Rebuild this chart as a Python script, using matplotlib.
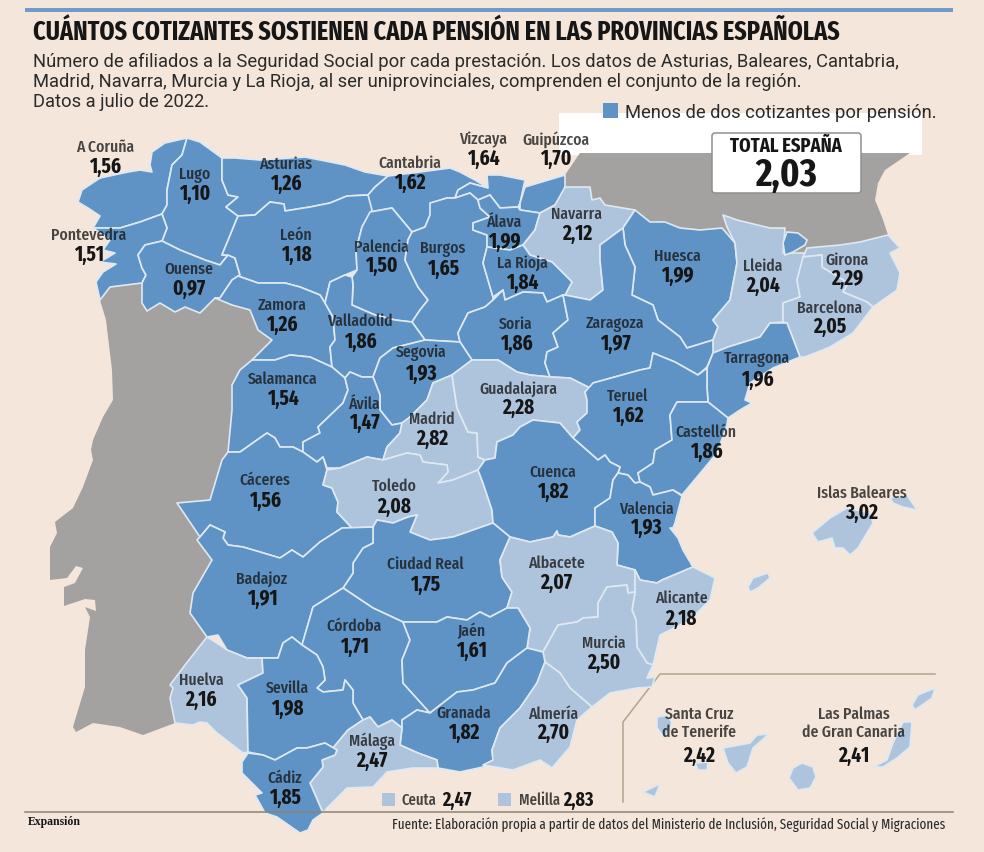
"""
Cotizantes por pension, mapa de provincias. Contornos trazados a mano en pixeles.
"""

from matplotlib import pyplot as plt
from matplotlib.patches import FancyBboxPatch, Rectangle

BG = "#f4e6da"
BLUE = "#5f93c5"
LIGHT = "#aec4dd"
GREY = "#a4a2a0"
BORDER = "#dfe9f1"
TAN = "#b3a48f"
INK = "#161616"

NARROW = ["Fira Sans Extra Condensed", "Barlow Condensed", "Roboto", "DejaVu Sans"]

provinces = ["A Coruña", "Lugo", "Asturias", "Cantabria", "Vizcaya", "Guipúzcoa", "Pontevedra",
             "Ouense", "León", "Palencia", "Burgos", "Álava", "Navarra", "La Rioja", "Huesca",
             "Lleida", "Girona", "Barcelona", "Zamora", "Valladolid", "Soria", "Zaragoza",
             "Tarragona", "Segovia", "Salamanca", "Ávila", "Madrid", "Guadalajara", "Teruel",
             "Castellón", "Cáceres", "Toledo", "Cuenca", "Valencia", "Islas Baleares",
             "Ciudad Real", "Albacete", "Badajoz", "Alicante", "Córdoba", "Jaén", "Murcia",
             "Huelva", "Sevilla", "Granada", "Almería", "Málaga", "Cádiz",
             "Santa Cruz\nde Tenerife", "Las Palmas\nde Gran Canaria"]
values = [1.56, 1.10, 1.26, 1.62, 1.64, 1.70, 1.51,
          0.97, 1.18, 1.50, 1.65, 1.99, 2.12, 1.84, 1.99,
          2.04, 2.29, 2.05, 1.26, 1.86, 1.86, 1.97,
          1.96, 1.93, 1.54, 1.47, 2.82, 2.28, 1.62,
          1.86, 1.56, 2.08, 1.82, 1.93, 3.02,
          1.75, 2.07, 1.91, 2.18, 1.71, 1.61, 2.50,
          2.16, 1.98, 1.82, 2.70, 2.47, 1.85,
          2.42, 2.41]
total_spain = 2.03
ceuta = 2.47
melilla = 2.83

# contornos en pixeles de la imagen (x, y), y hacia abajo
shapes = {
    "A Coruña": [[(187,138),(165,143),(152,152),(150,165),(152,172),(140,170),(128,172),(100,178),(82,190),(78,202),(88,208),(100,216),(93,228),(120,228),(140,222),(162,214),(167,205),(167,190),(172,165),(182,155)]],
    "Lugo": [[(187,138),(200,142),(222,158),(222,180),(228,195),(238,197),(226,207),(238,216),(222,255),(228,255),(220,265),(205,260),(180,250),(162,241),(167,228),(162,214),(167,205),(167,190),(172,165),(182,155)]],
    "Pontevedra": [[(93,228),(120,228),(140,222),(162,214),(167,228),(162,241),(145,245),(138,255),(142,268),(146,275),(142,283),(110,287),(100,300),(96,282),(103,272),(116,264),(100,262),(115,253),(103,250),(110,240)]],
    "Ouense": [[(162,241),(180,250),(205,260),(220,265),(228,255),(235,258),(240,275),(232,280),(220,298),(215,298),(200,313),(185,307),(175,312),(160,303),(147,311),(142,303),(142,283),(146,275),(142,268),(138,255),(145,245)]],
    "Asturias": [[(222,158),(235,158),(260,160),(305,157),(345,165),(365,172),(388,176),(375,187),(368,195),(347,196),(330,203),(310,207),(285,211),(284,204),(270,202),(255,215),(238,216),(226,207),(238,197),(228,195),(222,180)]],
    "León": [[(238,216),(255,215),(270,202),(284,204),(285,211),(310,207),(330,203),(347,196),(368,195),(372,210),(362,227),(356,250),(357,270),(345,275),(330,282),(325,303),(320,295),(300,287),(285,283),(258,283),(238,276),(240,275),(235,258),(228,255),(222,255)]],
    "Cantabria": [[(388,176),(420,172),(450,168),(460,172),(475,180),(488,188),(470,183),(458,190),(455,198),(447,198),(432,203),(430,215),(425,227),(412,232),(392,208),(370,212),(368,195),(375,187)]],
    "Palencia": [[(370,212),(392,208),(412,232),(408,240),(405,260),(412,275),(418,287),(428,300),(420,310),(412,322),(395,320),(375,315),(352,305),(353,285),(352,277),(357,270),(356,250),(362,227)]],
    "Valladolid": [[(330,282),(345,275),(352,277),(353,285),(352,305),(375,315),(395,320),(412,322),(425,340),(393,348),(380,358),(373,377),(362,377),(350,372),(345,378),(332,367),(330,347),(335,340),(333,317),(325,303)]],
    "Zamora": [[(238,276),(258,283),(285,283),(300,287),(320,295),(325,303),(333,317),(335,340),(330,347),(332,367),(310,357),(290,355),(275,360),(252,360),(272,340),(258,330),(250,310),(232,305),(215,298),(220,298),(232,280)]],
    "Salamanca": [[(252,360),(275,360),(290,355),(310,357),(332,367),(345,378),(348,390),(343,403),(318,427),(320,433),(303,442),(303,452),(293,447),(280,447),(275,438),(267,433),(240,452),(228,452),(232,410),(232,385),(240,370)]],
    "Ávila": [[(345,378),(350,372),(362,377),(373,377),(380,395),(380,410),(392,425),(402,423),(400,433),(387,447),(383,460),(367,457),(340,468),(327,468),(323,457),(317,462),(303,452),(303,442),(320,433),(318,427),(343,403),(348,390)]],
    "Segovia": [[(373,377),(380,358),(393,348),(425,340),(460,342),(472,360),(452,375),(433,383),(427,400),(410,417),(402,423),(392,425),(380,410),(380,395)]],
    "Soria": [[(458,333),(468,313),(485,307),(493,300),(503,290),(505,300),(523,292),(543,293),(547,302),(563,295),(568,320),(553,333),(558,347),(547,352),(545,363),(550,377),(530,375),(517,372),(498,360),(472,360),(460,342)]],
    "Burgos": [[(430,203),(447,198),(455,198),(470,193),(478,200),(480,208),(490,217),(473,223),(473,230),(487,235),(487,247),(483,263),(493,297),(493,300),(485,307),(468,313),(458,333),(460,342),(425,340),(412,322),(420,310),(428,300),(418,287),(412,275),(405,260),(408,240),(412,232),(425,227),(430,215)]],
    "Vizcaya": [[(487,175),(500,175),(525,180),(520,203),(518,207),(500,208),(490,195),(478,200),(470,193),(455,198),(458,190),(470,183),(488,188)]],
    "Guipúzcoa": [[(525,187),(565,175),(565,190),(555,205),(540,213),(520,210),(520,203)]],
    "Álava": [[(500,208),(518,207),(520,210),(540,213),(535,230),(527,240),(523,245),(510,250),(487,247),(487,235),(473,230),(473,223),(490,217),(480,208),(478,200),(490,195)]],
    "Navarra": [[(565,187),(590,187),(592,200),(600,198),(605,205),(635,210),(623,228),(600,245),(600,260),(603,290),(590,300),(565,295),(572,282),(552,262),(530,255),(523,245),(535,230),(540,213),(555,205)]],
    "La Rioja": [[(487,247),(510,250),(523,245),(530,255),(552,262),(572,282),(565,295),(563,295),(547,302),(543,293),(523,292),(505,300),(503,290),(493,297),(483,263)]],
    "Zaragoza": [[(623,228),(625,245),(635,267),(632,295),(653,305),(658,320),(680,337),(687,348),(713,340),(713,353),(707,367),(698,375),(675,362),(653,353),(650,368),(640,370),(593,383),(590,388),(570,378),(550,377),(545,363),(547,352),(558,347),(553,333),(568,320),(563,295),(565,295),(590,300),(603,290),(600,260),(600,245)]],
    "Huesca": [[(635,210),(650,222),(665,222),(680,228),(700,230),(722,228),(735,243),(737,263),(730,300),(713,320),(718,327),(713,340),(687,348),(680,337),(658,320),(653,305),(632,295),(635,267),(625,245),(623,228)]],
    "Lleida": [[(723,215),(737,220),(770,228),(785,228),(783,253),(805,253),(797,280),(800,297),(783,303),(783,322),(770,323),(760,337),(728,347),(713,353),(713,340),(718,327),(713,320),(730,300),(737,263),(735,243),(727,227)]],
    "Girona": [[(807,248),(840,245),(860,242),(888,235),(900,248),(890,253),(900,273),(897,290),(873,307),(867,302),(843,292),(848,283),(822,267),(822,255),(803,257)]],
    "Barcelona": [[(803,257),(822,255),(822,267),(848,283),(843,292),(867,302),(873,307),(853,333),(830,347),(805,357),(800,357),(787,323),(783,322),(783,303),(800,297),(797,280)]],
    "Tarragona": [[(707,368),(713,353),(728,347),(760,337),(770,323),(787,323),(800,357),(773,368),(750,383),(745,400),(752,403),(740,410),(728,418),(708,402),(707,387)]],
    "Teruel": [[(593,383),(640,370),(650,368),(653,353),(675,362),(698,375),(707,368),(707,387),(708,402),(677,402),(670,415),(672,440),(655,450),(653,463),(638,473),(640,482),(635,483),(628,475),(618,473),(620,467),(610,462),(605,455),(598,460),(573,438),(580,430),(577,422),(587,413),(587,400),(585,392)]],
    "Castellón": [[(677,402),(708,402),(728,418),(727,425),(717,453),(697,477),(682,495),(673,490),(653,495),(650,487),(640,482),(638,473),(653,463),(655,450),(672,440),(670,415)]],
    "Valencia": [[(618,473),(628,475),(635,483),(640,482),(650,487),(653,495),(673,490),(682,496),(675,523),(673,528),(670,528),(678,538),(683,550),(693,567),(662,580),(657,583),(640,580),(635,570),(617,565),(618,543),(612,532),(595,526),(595,508),(610,498),(613,480)]],
    "Cuenca": [[(533,420),(560,423),(573,438),(598,460),(605,455),(610,462),(620,467),(618,473),(613,480),(610,498),(595,508),(595,526),(570,537),(558,535),(557,531),(553,537),(530,542),(510,537),(493,523),(492,510),(483,483),(478,470),(485,460),(495,458),(497,442),(513,435),(520,427)]],
    "Guadalajara": [[(452,375),(472,360),(498,360),(517,372),(530,375),(550,377),(570,378),(590,388),(585,392),(587,400),(587,413),(577,422),(580,430),(573,438),(560,423),(533,420),(520,427),(513,435),(497,442),(495,458),(485,460),(478,457),(477,433),(468,432),(457,408)]],
    "Madrid": [[(433,383),(452,375),(457,408),(468,432),(477,433),(478,457),(485,460),(478,470),(453,480),(438,483),(448,472),(447,465),(423,462),(420,455),(407,453),(383,460),(387,447),(400,433),(402,423),(410,417),(427,400)]],
    "Toledo": [[(327,470),(340,468),(367,457),(383,460),(407,453),(420,455),(423,462),(447,465),(448,472),(438,483),(453,480),(478,470),(483,483),(492,510),(493,523),(453,537),(430,540),(410,532),(417,515),(408,517),(393,523),(377,520),(373,527),(352,528),(337,512),(338,502),(332,488),(323,485)]],
    "Cáceres": [[(228,452),(240,452),(267,433),(275,438),(280,447),(293,447),(303,452),(317,462),(323,457),(327,470),(323,485),(332,488),(338,502),(337,512),(352,528),(342,528),(320,542),(303,557),(292,550),(280,558),(260,552),(243,547),(228,545),(223,538),(225,532),(210,525),(200,537),(177,503),(210,500),(222,460)]],
    "Badajoz": [[(200,537),(210,525),(225,532),(223,538),(228,545),(243,547),(260,552),(280,558),(292,550),(303,557),(320,542),(342,528),(373,527),(373,543),(363,548),(353,563),(353,573),(343,588),(313,607),(302,645),(292,637),(283,643),(278,658),(262,658),(247,658),(227,650),(218,635),(207,637),(190,613),(193,593),(212,560),(197,540)]],
    "Ciudad Real": [[(373,527),(377,520),(393,523),(408,517),(417,515),(410,532),(430,540),(453,537),(493,523),(510,537),(500,560),(502,577),(512,592),(507,608),(490,617),(480,612),(467,620),(447,617),(437,622),(403,622),(373,608),(343,588),(353,573),(353,563),(363,548),(373,543)]],
    "Albacete": [[(510,537),(530,542),(553,537),(557,531),(558,535),(570,537),(595,526),(612,532),(618,543),(617,565),(635,570),(635,592),(628,593),(627,585),(607,587),(598,603),(598,617),(583,618),(577,622),(558,625),(543,652),(527,648),(530,628),(518,608),(507,608),(512,592),(502,577),(500,560)]],
    "Córdoba": [[(343,588),(373,608),(403,622),(410,640),(402,660),(403,683),(430,713),(417,710),(402,720),(402,728),(392,720),(378,727),(370,717),(363,720),(353,703),(353,690),(345,680),(343,690),(323,692),(317,688),(325,680),(323,667),(317,655),(302,645),(313,607)]],
    "Jaén": [[(403,622),(437,622),(447,617),(467,620),(480,612),(490,617),(507,608),(518,608),(530,628),(527,648),(507,663),(495,683),(473,690),(457,692),(430,713),(403,683),(402,660),(410,640)]],
    "Sevilla": [[(262,658),(278,658),(283,643),(292,637),(302,645),(317,655),(323,667),(325,680),(317,688),(323,692),(343,690),(345,680),(353,690),(353,703),(363,720),(348,730),(333,748),(325,743),(307,748),(297,748),(275,760),(263,755),(248,752),(247,698),(238,685),(263,673)]],
    "Huelva": [[(207,637),(220,645),(227,650),(247,658),(262,658),(263,673),(238,685),(247,698),(248,752),(243,753),(217,733),(207,723),(200,722),(193,725),(175,723),(170,698),(173,688),(170,685),(185,665)]],
    "Cádiz": [[(248,753),(263,755),(275,760),(297,748),(307,748),(325,743),(337,750),(335,755),(322,760),(323,767),(310,783),(323,813),(313,820),(308,830),(300,833),(277,817),(265,813),(255,795),(262,793),(242,773),(242,762)]],
    "Málaga": [[(337,750),(333,748),(348,730),(363,720),(370,717),(378,727),(392,720),(402,728),(400,745),(418,753),(437,760),(438,768),(413,768),(387,772),(373,787),(347,788),(327,808),(323,813),(310,783),(323,767),(322,760),(335,755)]],
    "Granada": [[(402,728),(402,720),(417,710),(430,713),(457,692),(473,690),(495,683),(507,663),(527,648),(543,652),(545,662),(537,683),(520,708),(500,728),(492,750),(493,760),(483,767),(460,772),(438,768),(437,760),(418,753),(400,745)]],
    "Murcia": [[(607,587),(627,585),(628,593),(635,592),(632,610),(636,620),(637,647),(647,663),(653,665),(647,678),(655,677),(652,687),(637,688),(610,693),(592,707),(570,688),(560,673),(545,662),(543,652),(558,625),(577,622),(583,618),(598,617),(598,603)]],
    "Alicante": [[(635,570),(640,580),(657,583),(662,580),(693,567),(715,578),(710,600),(690,620),(660,635),(653,665),(647,663),(637,647),(636,620),(632,610),(635,592)]],
    "Almería": [[(545,662),(560,673),(570,688),(592,707),(577,720),(570,747),(552,768),(540,760),(513,770),(483,765),(493,760),(492,750),(500,728),(520,708),(537,683)]],
    "Islas Baleares": [[(812,533),(830,518),(847,508),(870,513),(873,523),(858,548),(850,555),(843,548),(835,548),(832,538),(818,542)],
                       [(890,498),(907,495),(917,510),(903,507),(893,503)],
                       [(748,587),(753,578),(768,573),(770,578),(758,588),(750,592)]],
    "Santa Cruz\nde Tenerife": [[(723,748),(750,743),(757,735),(769,734),(753,748),(747,767),(736,773),(728,763)],
                                [(657,717),(668,715),(672,723),(665,738),(657,728)],
                                [(695,763),(708,762),(707,770),(698,770)],
                                [(643,792),(660,784),(655,797)]],
    "Las Palmas\nde Gran Canaria": [[(802,763),(813,767),(816,777),(810,788),(798,790),(789,778),(793,768)],
                                    [(903,722),(912,722),(910,747),(897,758),(883,767),(873,767),(887,760),(893,743)],
                                    [(935,688),(932,698),(915,710),(912,705),(918,695)]],
}

andorra = [(787,232),(798,233),(807,240),(805,245),(793,252),(785,255),(783,243)]
portugal = [(100,300),(110,287),(142,283),(142,303),(147,311),(160,303),(175,312),(185,307),(200,313),(215,298),
            (232,305),(250,310),(258,330),(272,340),(252,360),(240,370),(232,385),(232,410),(228,452),(222,460),
            (210,500),(177,503),(200,537),(212,560),(193,593),(190,613),(207,637),(185,665),(170,685),(173,688),
            (170,698),(175,723),(143,735),(120,727),(93,723),(76,732),(73,727),(85,687),(85,650),(90,617),(85,607),
            (96,611),(95,600),(85,599),(64,606),(64,587),(75,583),(83,568),(76,566),(67,578),(50,580),(50,547),
            (57,533),(55,522),(73,508),(83,487),(93,460),(91,450),(93,440),(103,417),(113,400),(112,370),(106,320)]
france = [(565,190),(565,175),(580,153),(910,153),(885,170),(878,183),(875,200),(882,217),(888,235),(860,243),
          (800,255),(700,260),(600,250)]

# centro del nombre y de la cifra
label_pos = {
    "A Coruña": (105,146,166), "Lugo": (195,174,193), "Asturias": (286,163,183),
    "Cantabria": (410,162,182), "Vizcaya": (483,139,158), "Guipúzcoa": (556,139,158),
    "Pontevedra": (89,234,254), "Ouense": (189,268,288), "León": (296,234,254),
    "Palencia": (381,246,265), "Burgos": (443,248,268), "Álava": (504,221,241),
    "Navarra": (577,213,233), "La Rioja": (522,262,282), "Huesca": (677,255,275),
    "Lleida": (763,265,285), "Girona": (847,259,278), "Barcelona": (830,307,326),
    "Zamora": (282,304,324), "Valladolid": (360,320,341), "Soria": (516,323,343),
    "Zaragoza": (615,323,343), "Tarragona": (757,358,379), "Segovia": (421,352,373),
    "Salamanca": (283,378,398), "Ávila": (364,403,422), "Madrid": (432,418,438),
    "Guadalajara": (518,388,407), "Teruel": (628,395,415), "Castellón": (706,431,451),
    "Cáceres": (265,479,500), "Toledo": (394,485,506), "Cuenca": (553,471,491),
    "Valencia": (646,508,527), "Islas Baleares": (862,492,512), "Ciudad Real": (425,563,584),
    "Albacete": (556,562,582), "Badajoz": (262,578,598), "Alicante": (681,597,618),
    "Córdoba": (354,625,646), "Jaén": (471,630,650), "Murcia": (604,642,662),
    "Huelva": (201,679,699), "Sevilla": (287,687,708), "Granada": (464,712,732),
    "Almería": (553,713,732), "Málaga": (372,740,760), "Cádiz": (285,777,797),
    "Santa Cruz\nde Tenerife": (699,722,755), "Las Palmas\nde Gran Canaria": (854,722,755),
}


def fmt(v):
    return f"{v:.2f}".replace(".", ",")


fig = plt.figure(figsize=(9.84, 8.52), dpi=100, facecolor=BG)
ax = fig.add_axes([0, 0, 1, 1])
ax.set_xlim(0, 984)
ax.set_ylim(852, 0)
ax.axis("off")

ax.add_patch(Rectangle((559, 113), 363, 42, fc="white", ec="none", zorder=1))
for poly in (portugal, france):
    ax.fill(*zip(*poly), fc=GREY, ec="none", zorder=2)

for name, val in zip(provinces, values):
    col = BLUE if val < 2 else LIGHT
    for poly in shapes[name]:
        ax.fill(*zip(*poly), fc=col, ec=BORDER, lw=1.2, joinstyle="round", zorder=3)
ax.fill(*zip(*andorra), fc=BLUE, ec=BORDER, lw=1.2, zorder=3)

for name, val in zip(provinces, values):
    x, yn, yv = label_pos[name]
    ax.text(x, yn + 1, name, family=NARROW, fontsize=12.3, fontweight=500, color=INK, alpha=0.78, ha="center",
            va="center", linespacing=1.15, zorder=5)
    ax.text(x, yv + 1, fmt(val), family=NARROW, fontsize=15, fontweight="bold", color=INK, ha="center",
            va="center", zorder=5)

# filetes y recuadro de Canarias
ax.add_patch(Rectangle((25, 8), 928, 4, fc="#6d9cc8", ec="none", zorder=1))
ax.plot([25, 953], [812, 812], color="#8d8273", lw=1.1, zorder=4)
ax.plot([935, 660, 623, 623], [674, 674, 722, 802], color=TAN, lw=1.1, zorder=2)

ax.text(33, 32, "CUÁNTOS COTIZANTES SOSTIENEN CADA PENSIÓN EN LAS PROVINCIAS ESPAÑOLAS", family=NARROW,
        fontsize=18.9, fontweight="bold", color=INK, va="center", zorder=6)
sub = ["Número de afiliados a la Seguridad Social por cada prestación. Los datos de Asturias, Baleares, Cantabria,",
       "Madrid, Navarra, Murcia y La Rioja, al ser uniprovinciales, comprenden el conjunto de la región.",
       "Datos a julio de 2022."]
for y, line in zip((62, 82, 102), sub):
    ax.text(33, y, line, family="Roboto", fontsize=13.27, color="#2b2b2b", va="center", zorder=6)

ax.add_patch(Rectangle((603, 103), 15, 15, fc=BLUE, ec="none", zorder=6))
ax.text(625, 113, "Menos de dos cotizantes por pensión.", family="Roboto", fontsize=13.25, color="#2b2b2b",
        va="center", zorder=6)

ax.add_patch(FancyBboxPatch((714, 135), 145, 56, boxstyle="round,pad=2,rounding_size=3", fc="white",
                            ec="#8f8f8f", lw=1.1, zorder=6))
ax.text(786, 146, "TOTAL ESPAÑA", family=NARROW, fontsize=14.5, fontweight="bold", color=INK, ha="center",
        va="center", zorder=7)
ax.text(786, 176, fmt(total_spain), family=NARROW, fontsize=28, fontweight="bold", color=INK, ha="center",
        va="center", zorder=7)

for x0, name, val, xt, xv in ((382, "Ceuta", ceuta, 402, 442), (498, "Melilla", melilla, 519, 563)):
    ax.add_patch(Rectangle((x0, 793), 13, 13, fc=LIGHT, ec="none", zorder=6))
    ax.text(xt, 800, name, family=NARROW, fontsize=11.5, fontweight=500, color=INK, alpha=0.78, va="center", zorder=6)
    ax.text(xv, 800, fmt(val), family=NARROW, fontsize=14, fontweight="bold", color=INK, va="center", zorder=6)

ax.text(28, 822, "Expansión", family="Liberation Serif", fontsize=8.5, fontweight="bold", color=INK, va="center")
ax.text(945, 825, "Fuente: Elaboración propia a partir de datos del Ministerio de Inclusión, Seguridad Social y Migraciones",
        family=NARROW, fontsize=10.25, color="#2b2b2b", ha="right", va="center")

fig.savefig("out.png", dpi=100, facecolor=BG)
